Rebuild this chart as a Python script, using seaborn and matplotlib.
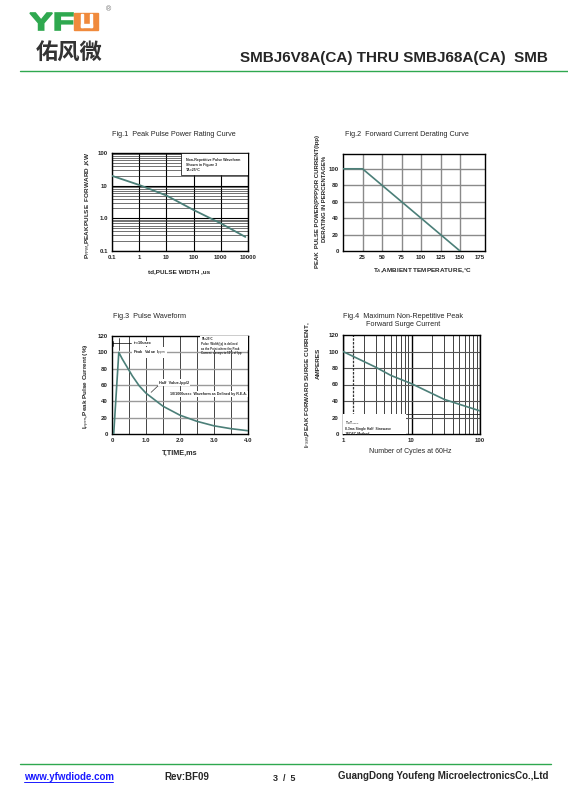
import numpy as np
import matplotlib
matplotlib.use("Agg")
import matplotlib.pyplot as plt
import matplotlib.ticker as mticker
from matplotlib.patches import Rectangle, PathPatch
from matplotlib.textpath import TextPath
from matplotlib.font_manager import FontProperties
from matplotlib.transforms import Affine2D
import seaborn as sns

# ---- data ----
# Fig.1 peak pulse power vs pulse width
fig1_width_us = [0.1, 1, 10, 100, 1000, 8000]
fig1_power_kw = [20, 10.5, 5.0, 1.8, 0.7, 0.27]
fig1_xticks = [0.1, 1, 10, 100, 1000, 10000]
fig1_xticklabels = ["0.1", "1", "10", "100", "1000", "10000"]
fig1_yticks = [0.1, 1, 10, 100]
fig1_yticklabels = ["0.1", "1.0", "10", "100"]

# Fig.2 derating curve
fig2_temp_c = [0, 25, 50, 75, 100, 125, 150]
fig2_percent = [100, 100, 80, 60, 40, 20, 0]
fig2_xticks = [25, 50, 75, 100, 125, 150, 175]
fig2_yticks = [0, 20, 40, 60, 80, 100]

# Fig.3 pulse waveform
fig3_time_ms = [0.05, 0.2, 0.3, 0.4, 0.6, 0.8, 1.0, 1.25, 1.5, 2.0, 2.5, 3.0, 3.5, 4.0]
fig3_current_pct = [0, 100, 92, 85, 71, 59, 50, 42, 34, 23, 15.5, 10, 6.5, 4]
fig3_xticks = [0, 1, 2, 3, 4]
fig3_xticklabels = ["0", "1.0", "2.0", "3.0", "4.0"]
fig3_yticks = [0, 20, 40, 60, 80, 100, 120]

# Fig.4 surge current vs cycles
fig4_cycles = [1, 2, 3, 5, 10, 20, 30, 50, 100]
fig4_current_a = [100, 88, 81, 71, 61, 49, 42, 36, 28]
fig4_xticks = [1, 10, 100]
fig4_yticks = [0, 20, 40, 60, 80, 100, 120]

sns.set_theme(style="white")
plt.rcParams["font.family"] = ["Liberation Sans", "Noto Sans CJK SC", "DejaVu Sans"]
plt.rcParams["axes.unicode_minus"] = False

NARROW = ["Liberation Sans Narrow", "Liberation Sans", "DejaVu Sans"]

W, H = 568, 806
fig = plt.figure(figsize=(W / 100, H / 100), dpi=100)
fig.patch.set_facecolor("white")

CURVE = "#4b7f78"
GREEN = "#2fa84f"


def px(x, y):
    return x / W, 1 - y / H


def make_axes(left, top, right, bottom):
    ax = fig.add_axes([left / W, 1 - bottom / H, (right - left) / W, (bottom - top) / H])
    for s in ax.spines.values():
        s.set_color("black")
        s.set_linewidth(1.0)
    ax.tick_params(length=0, pad=3)
    return ax


def bold_ticks(ax):
    for lab in ax.get_xticklabels() + ax.get_yticklabels():
        lab.set_fontweight("bold")
        lab.set_fontsize(4.4)
        lab.set_family(NARROW)


# ---- header ----
# stretched "YF" drawn as a path so it can be as wide as the logo
yf_path = TextPath((0, 0), "YF", size=1, prop=FontProperties(family="Liberation Sans", weight="black"))
yf_box = yf_path.get_extents()
sx = 43 / yf_box.width
sy = 17 / yf_box.height
yf_tr = Affine2D().translate(-yf_box.x0, -yf_box.y0).scale(sx, sy).translate(30, H - 30)
fig.add_artist(PathPatch(yf_path, transform=yf_tr, facecolor=GREEN, edgecolor=GREEN, lw=1.2))
fig.patches.append(Rectangle(px(74, 30), 24 / W, 17 / H, transform=fig.transFigure,
                             color="#f08a3c", zorder=3))
for xx in (80.5, 89.5):
    fig.patches.append(Rectangle(px(xx, 26.5), 2 / W, 13 / H, transform=fig.transFigure,
                                 color="white", zorder=4))
fig.patches.append(Rectangle(px(80.5, 26.5), 11 / W, 2 / H, transform=fig.transFigure,
                             color="white", zorder=4))
fig.text(*px(108, 10), "®", fontsize=5, color="#666666", va="center", ha="center")
fig.text(*px(36, 53), "佑风微", fontsize=16, fontweight="bold", color="#333333",
         family=["Noto Sans CJK SC", "DejaVu Sans"], va="center")
fig.text(*px(548, 62), "SMBJ6V8A(CA) THRU SMBJ68A(CA)  SMB", fontsize=11,
         fontweight="bold", ha="right", va="baseline")
fig.add_artist(plt.Line2D([20 / W, 1.0], [1 - 71 / H] * 2, color=GREEN, lw=1.0))

# ---- footer ----
fig.add_artist(plt.Line2D([20 / W, 551 / W], [1 - 764 / H] * 2, color=GREEN, lw=1.0))
fig.text(*px(24, 780), "www.yfwdiode.com", fontsize=7, fontweight="bold", color="#1a1aff",
         va="baseline")
fig.add_artist(plt.Line2D([24 / W, 113 / W], [1 - 782 / H] * 2, color="#1a1aff", lw=0.7))
fig.text(*px(164, 780), "Rev:BF09", fontsize=7, fontweight="bold", va="baseline")
fig.text(*px(273, 781), "3  /  5", fontsize=6.5, fontweight="bold", va="baseline")
fig.text(*px(548, 779), "GuangDong Youfeng MicroelectronicsCo.,Ltd", fontsize=7,
         fontweight="bold", ha="right", va="baseline")

# ---- Fig.1 ----
ax1 = make_axes(112, 153, 248, 251)
ax1.set_xscale("log")
ax1.set_yscale("log")
ax1.set_xlim(0.1, 10000)
ax1.set_ylim(0.1, 100)
ax1.grid(which="major", color="black", lw=0.8)
ax1.grid(which="minor", color="#222222", lw=0.45)
ax1.xaxis.set_minor_locator(mticker.LogLocator(subs=np.arange(2, 10)))
ax1.yaxis.set_minor_locator(mticker.LogLocator(subs=np.arange(2, 10)))
ax1.xaxis.set_minor_formatter(mticker.NullFormatter())
ax1.yaxis.set_minor_formatter(mticker.NullFormatter())
sns.lineplot(x=fig1_width_us, y=fig1_power_kw, ax=ax1, color=CURVE, lw=1.3, zorder=5)
ax1.set_xticks(fig1_xticks, fig1_xticklabels)
ax1.set_yticks(fig1_yticks, fig1_yticklabels)
bold_ticks(ax1)
ax1.add_patch(Rectangle((0.51, 0.775), 0.49, 0.225, transform=ax1.transAxes,
                        facecolor="white", edgecolor="black", lw=0.5, zorder=6))
ax1.text(0.545, 0.95, "Non-Repetitive Pulse Waveform\nShown in Figure 3\nTA=25°C",
         transform=ax1.transAxes, fontsize=2.6, fontweight="bold", va="top",
         linespacing=1.3, zorder=7)
fig.text(*px(112, 134), "Fig.1  Peak Pulse Power Rating Curve", fontsize=5.2, va="center")
fig.text(*px(179, 272), "td,PULSE WIDTH ,us", fontsize=4.6, fontweight="bold",
         ha="center", va="center", family=NARROW)
fig.text(*px(88, 205), "P$_{PPM}$,PEAKPULSE  FORWARD ,KW", fontsize=4.6, fontweight="bold",
         rotation=90, ha="center", va="center", family=NARROW)

# ---- Fig.2 ----
ax2 = make_axes(343, 154, 485, 251)
ax2.set_xlim(0, 182)
ax2.set_ylim(0, 118)
for xv in [25, 50, 75, 100, 125, 150]:
    ax2.axvline(xv, color="#8a8a8a", lw=1.0, zorder=1)
for yv in [20, 40, 60, 80, 100]:
    ax2.axhline(yv, color="#8a8a8a", lw=1.0, zorder=1)
sns.lineplot(x=fig2_temp_c, y=fig2_percent, ax=ax2, color=CURVE, lw=1.2, zorder=5)
ax2.set_xticks(fig2_xticks)
ax2.set_yticks(fig2_yticks)
bold_ticks(ax2)
fig.text(*px(345, 135), "Fig.2  Forward Current Derating Curve", fontsize=5.2, va="center")
fig.text(*px(422, 271), "T$_A$,AMBIENT TEMPERATURE,°C", fontsize=4.6, fontweight="bold",
         ha="center", va="center", family=NARROW)
fig.text(*px(318, 202), "PEAK  PULSE POWER(PPP)OR CURRENT(Ipp)", fontsize=4.3,
         fontweight="bold", rotation=90, ha="center", va="center", family=NARROW)
fig.text(*px(324, 199), "DERATING IN PERCENTAGE%", fontsize=4.3,
         fontweight="bold", rotation=90, ha="center", va="center", family=NARROW)

# ---- Fig.3 ----
ax3 = make_axes(112, 336, 248, 434)
ax3.set_xlim(0, 4)
ax3.set_ylim(0, 120)
for xv in np.arange(0.5, 4.0, 0.5):
    ax3.axvline(xv, color="#444444", lw=0.7, zorder=1)
for yv in [20, 40, 60, 80, 100]:
    ax3.axhline(yv, color="#9a9a9a", lw=1.0, zorder=1)
sns.lineplot(x=fig3_time_ms, y=fig3_current_pct, ax=ax3, color=CURVE, lw=1.2, zorder=5)
ax3.set_xticks(fig3_xticks, fig3_xticklabels)
ax3.set_yticks(fig3_yticks)
bold_ticks(ax3)
ax3.plot([0, 0.55], [111, 111], color="black", lw=0.5, zorder=6)
ax3.plot([0.2, 0.2], [103, 118], color="black", lw=0.5, zorder=6)
ax3.plot([0.02, 0.02], [108, 114], color="black", lw=0.5, zorder=6)
ax3.text(0.62, 111, "tr=10usec", fontsize=2.8, fontweight="bold", va="center", zorder=7,
         bbox=dict(facecolor="white", edgecolor="none", pad=0.6))
ax3.text(0.62, 100, "Peak  Value  I$_{ppm}$", fontsize=2.8, fontweight="bold", va="center",
         zorder=7, bbox=dict(facecolor="white", edgecolor="none", pad=0.8))
ax3.add_patch(Rectangle((2.58, 102.5), 1.42, 17.5, facecolor="white", edgecolor="none", zorder=6))
ax3.text(2.62, 118.5, "TA=25°C\nPulse  Width(tp) is defined\nas the Point where the Peak\n"
         "Current  decays to 50% of Ipp", fontsize=2.1, fontweight="bold", va="top",
         linespacing=1.25, zorder=7)
ax3.text(1.38, 63, "Half  Value-Ipp/2", fontsize=2.8, fontweight="bold", va="center", zorder=7,
         bbox=dict(facecolor="white", edgecolor="none", pad=1.0))
ax3.plot([1.38, 1.15], [60, 51], color="#333333", lw=0.5, zorder=6)
ax3.text(1.72, 49, "10/1000usec  Waveform as Defined by R.E.A.", fontsize=2.6,
         fontweight="bold", va="center", zorder=7,
         bbox=dict(facecolor="white", edgecolor="none", pad=0.8))
fig.text(*px(113, 317), "Fig.3  Pulse Waveform", fontsize=5.2, va="center")
fig.text(*px(180, 453), "T,TIME,ms", fontsize=5.2, fontweight="bold", ha="center", va="center")
fig.text(*px(87, 386), "I$_{ppm}$,Peak Pulse Current (%)", fontsize=4.6, fontweight="bold",
         rotation=90, ha="center", va="center")

# ---- Fig.4 ----
ax4 = make_axes(343, 335, 480, 434)
ax4.set_xscale("log")
ax4.set_xlim(1, 100)
ax4.set_ylim(0, 120)
ax4.xaxis.set_minor_locator(mticker.LogLocator(subs=np.arange(2, 10)))
ax4.xaxis.set_minor_formatter(mticker.NullFormatter())
ax4.grid(which="major", axis="x", color="black", lw=1.0)
ax4.grid(which="minor", axis="x", color="#222222", lw=0.6)
for yv in [20, 40, 60, 80, 100]:
    ax4.axhline(yv, color="#555555", lw=0.8, zorder=1)
ax4.axvline(1.4, color="#333333", lw=0.9, ls=(0, (2, 1)), zorder=2)
sns.lineplot(x=fig4_cycles, y=fig4_current_a, ax=ax4, color=CURVE, lw=1.2, zorder=5)
ax4.set_xticks(fig4_xticks, ["1", "10", "100"])
ax4.set_yticks(fig4_yticks)
bold_ticks(ax4)
ax4.add_patch(Rectangle((1, 0), 7.45, 24, facecolor="white", edgecolor="none", zorder=6))
ax4.plot([8.45, 100], [24, 24], color="#222222", lw=0.6, zorder=6)
ax4.text(1.07, 18, "T$_J$=T$_{Jmax}$\n8.3ms Single Half  Sinewave\nJEDEC Method", fontsize=2.4,
         fontweight="bold", va="top", linespacing=1.3, zorder=7)
fig.text(*px(403, 317), "Fig.4  Maximum Non-Repetitive Peak", fontsize=5.2,
         ha="center", va="center")
fig.text(*px(403, 324), "Forward Surge Current", fontsize=5.2, ha="center", va="center")
fig.text(*px(410, 452), "Number of Cycles at 60Hz", fontsize=5.0, ha="center", va="center")
fig.text(*px(308, 385), "I$_{FSM}$,PEAK FORWARD SURGE CURRENT,", fontsize=4.6,
         fontweight="bold", rotation=90, ha="center", va="center", family=NARROW)
fig.text(*px(318, 363), "AMPERES", fontsize=4.6, fontweight="bold", rotation=90,
         ha="center", va="center", family=NARROW)

fig.savefig("out.png", dpi=100, facecolor="white")
